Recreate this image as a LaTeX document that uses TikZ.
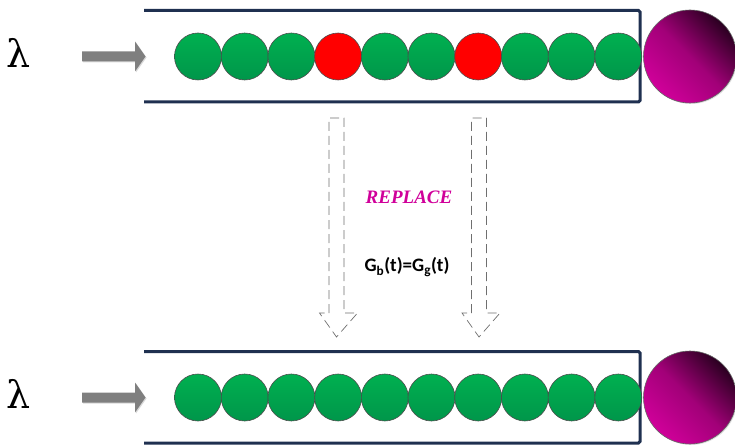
\documentclass[tikz,border=0pt]{standalone}
\usepackage{fontspec}
\setmainfont{Liberation Serif}
\newfontfamily\labelfont{Carlito}
\newfontfamily\ratefont{DejaVu Serif}
\usetikzlibrary{shadows}
\definecolor{navy}{HTML}{1F3050}
\definecolor{ballgreen}{HTML}{00B050}
\definecolor{ballgreendk}{HTML}{00964A}
\definecolor{ballred}{HTML}{FF0000}
\definecolor{serverpink}{HTML}{D0009A}
\definecolor{serverdark}{HTML}{2A0020}
\definecolor{arrowgray}{HTML}{7F7F7F}
\definecolor{dashgray}{HTML}{6F6F6F}
\tikzset{
  queueline/.style={draw=navy, line width=3pt, rounded corners=1.5pt},
  good/.style={circle, minimum size=47pt, inner sep=0pt, draw=black!70, line width=0.6pt,
               top color=ballgreen, bottom color=ballgreendk},
  bad/.style={circle, minimum size=47pt, inner sep=0pt, draw=black!70, line width=0.6pt, fill=ballred},
  server/.style={circle, minimum size=93pt, inner sep=0pt, draw=black!60, line width=0.6pt,
                 top color=serverdark, bottom color=serverpink, middle color=serverpink!72!serverdark,
                 shading angle=-45, drop shadow={opacity=0.25, shadow xshift=1pt, shadow yshift=-1pt}},
  feed/.style={fill=arrowgray, draw=none, drop shadow={opacity=0.3, shadow xshift=1pt, shadow yshift=-1pt}},
  flow/.style={draw=dashgray, line width=0.7pt, dash pattern=on 9pt off 5pt},
  rate/.style={font=\ratefont\fontsize{38}{38}\selectfont},
}
\begin{document}
\begin{tikzpicture}[x=1pt, y=-1pt]
\useasboundingbox (0,0) rectangle (735,446);

% ---- two queues: upper one with two bad items, lower one all good ----
\foreach \row/\yc in {top/56.5, bot/397.5} {
  % open-ended queue channel
  \draw[queueline] (144,\yc-46) -- (640,\yc-46) -- (640,\yc+45.5) -- (144,\yc+45.5);
  % arrival rate
  \node[rate] (lam-\row) at (19,\yc-4) {λ};
  % arrival arrow
  \coordinate (in-\row) at (82,\yc);
  \fill[feed] (82,\yc-5) -- (135,\yc-5) -- (135,\yc-15) -- (145.5,\yc) -- (135,\yc+15)
              -- (135,\yc+5) -- (82,\yc+5) -- cycle;
  % server
  \node[server] (srv-\row) at (690,\yc) {};
}

% upper queue contents
\foreach \i in {1,...,10} {
  \pgfmathsetmacro\xc{198+(\i-1)*46.7}
  \ifnum\i=4 \node[bad] (t\i) at (\xc,56.5) {};
  \else\ifnum\i=7 \node[bad] (t\i) at (\xc,56.5) {};
  \else \node[good] (t\i) at (\xc,56.5) {};
  \fi\fi
}
% lower queue contents
\foreach \i in {1,...,10} {
  \pgfmathsetmacro\xc{198+(\i-1)*46.7}
  \node[good] (b\i) at (\xc,397.5) {};
}

% ---- replacement arrows (dashed outline) ----
\foreach \name/\xc in {L/336.5, R/479} {
  \draw[flow] (\xc-7.5,313) -- (\xc-7.5,118) -- (\xc+7.5,118) -- (\xc+7.5,313)
              -- (\xc+21,313) -- (\xc,337) -- (\xc-17,313) -- cycle;
}

\node[font=\fontsize{19}{19}\selectfont\bfseries\itshape, text=serverpink] (rep) at (409,197) {REPLACE};
\node[font=\labelfont\fontsize{19}{19}\selectfont\bfseries] (eq) at (407,267)
  {G\textsubscript{b}(t)=G\textsubscript{g}(t)};
\end{tikzpicture}
\end{document}
